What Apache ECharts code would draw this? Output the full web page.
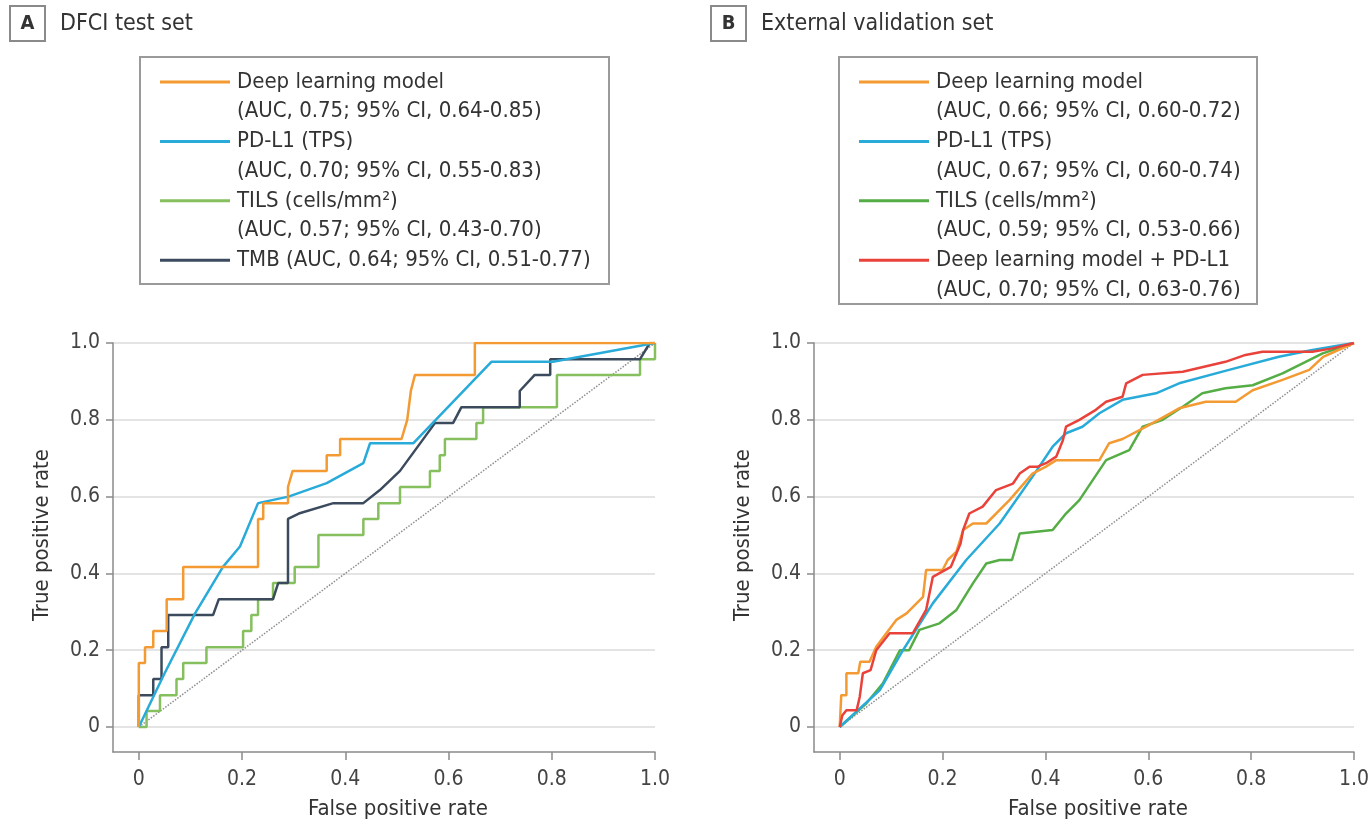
<!DOCTYPE html>
<html>
<head>
<meta charset="utf-8">
<script src="https://cdn.jsdelivr.net/npm/echarts@6/dist/echarts.min.js"></script>
<style>
  html, body { margin: 0; padding: 0; background: #fff; }
  #chart { width: 1372px; height: 824px; }
</style>
</head>
<body>
<div id="chart"></div>
<script>
// tick values shared by both panels
const tickValues = [0, 0.2, 0.4, 0.6, 0.8, 1];
const diagonal = [[0, 0], [1, 1]];

// A: DFCI test set ([fpr, tpr])
const dfciDeepLearning = [[0,0],[0,0.167],[0.012,0.167],[0.012,0.208],[0.028,0.208],[0.028,0.25],[0.054,0.25],[0.054,0.333],[0.086,0.333],[0.086,0.417],[0.231,0.417],[0.231,0.542],[0.241,0.542],[0.241,0.583],[0.289,0.583],[0.289,0.625],[0.298,0.667],[0.364,0.667],[0.364,0.708],[0.39,0.708],[0.39,0.75],[0.509,0.75],[0.52,0.8],[0.527,0.875],[0.535,0.917],[0.651,0.917],[0.651,1],[1,1]];
const dfciPdl1 = [[0,0],[0.05,0.14],[0.109,0.296],[0.163,0.417],[0.196,0.47],[0.231,0.583],[0.29,0.6],[0.364,0.635],[0.435,0.687],[0.448,0.739],[0.532,0.739],[0.683,0.951],[0.802,0.951],[1,1]];
const dfciTils = [[0,0],[0.015,0],[0.015,0.042],[0.041,0.042],[0.041,0.083],[0.073,0.083],[0.073,0.125],[0.086,0.125],[0.086,0.167],[0.131,0.167],[0.131,0.208],[0.202,0.208],[0.202,0.25],[0.218,0.25],[0.218,0.292],[0.231,0.292],[0.231,0.333],[0.26,0.333],[0.26,0.375],[0.302,0.375],[0.302,0.417],[0.348,0.417],[0.348,0.5],[0.435,0.5],[0.435,0.542],[0.464,0.542],[0.464,0.583],[0.506,0.583],[0.506,0.625],[0.564,0.625],[0.564,0.667],[0.583,0.667],[0.583,0.708],[0.593,0.708],[0.593,0.75],[0.654,0.75],[0.654,0.792],[0.667,0.792],[0.667,0.833],[0.81,0.833],[0.81,0.917],[0.971,0.917],[0.971,0.958],[1,0.958],[1,1]];
const dfciTmb = [[0,0],[0,0.083],[0.028,0.083],[0.028,0.125],[0.044,0.125],[0.044,0.208],[0.057,0.208],[0.057,0.292],[0.144,0.292],[0.155,0.333],[0.26,0.333],[0.27,0.375],[0.289,0.375],[0.289,0.542],[0.31,0.556],[0.377,0.583],[0.435,0.583],[0.467,0.617],[0.506,0.667],[0.574,0.792],[0.609,0.792],[0.625,0.833],[0.738,0.833],[0.738,0.875],[0.767,0.917],[0.797,0.917],[0.797,0.958],[0.971,0.958],[0.99,1],[1,1]];

// B: external validation set
const extDeepLearning = [[0,0],[0.003,0.083],[0.013,0.083],[0.013,0.14],[0.036,0.14],[0.04,0.17],[0.058,0.17],[0.071,0.209],[0.11,0.279],[0.13,0.296],[0.162,0.339],[0.168,0.409],[0.2,0.409],[0.21,0.435],[0.227,0.457],[0.24,0.513],[0.259,0.53],[0.285,0.53],[0.33,0.591],[0.375,0.66],[0.401,0.678],[0.421,0.695],[0.505,0.695],[0.524,0.739],[0.55,0.75],[0.583,0.773],[0.62,0.8],[0.66,0.83],[0.712,0.847],[0.77,0.847],[0.803,0.877],[0.861,0.904],[0.913,0.93],[0.94,0.964],[1,1]];
const extPdl1 = [[0,0],[0.078,0.096],[0.123,0.2],[0.181,0.322],[0.246,0.435],[0.311,0.53],[0.375,0.652],[0.414,0.73],[0.44,0.765],[0.472,0.782],[0.505,0.817],[0.55,0.852],[0.615,0.869],[0.66,0.895],[0.757,0.93],[0.854,0.964],[0.919,0.982],[1,1]];
const extTils = [[0,0],[0.052,0.062],[0.084,0.114],[0.117,0.2],[0.135,0.2],[0.155,0.253],[0.194,0.27],[0.227,0.305],[0.259,0.374],[0.285,0.426],[0.311,0.435],[0.335,0.435],[0.35,0.504],[0.414,0.513],[0.44,0.556],[0.466,0.591],[0.479,0.617],[0.505,0.669],[0.518,0.695],[0.563,0.721],[0.589,0.782],[0.628,0.8],[0.667,0.834],[0.705,0.869],[0.75,0.882],[0.803,0.89],[0.861,0.921],[0.906,0.951],[0.939,0.973],[1,1]];
const extCombined = [[0,0],[0.005,0.03],[0.013,0.044],[0.033,0.044],[0.039,0.079],[0.045,0.14],[0.06,0.148],[0.071,0.2],[0.097,0.244],[0.142,0.244],[0.168,0.305],[0.181,0.391],[0.216,0.417],[0.235,0.478],[0.24,0.513],[0.252,0.556],[0.278,0.574],[0.304,0.617],[0.337,0.634],[0.35,0.66],[0.369,0.678],[0.385,0.678],[0.401,0.687],[0.421,0.704],[0.434,0.747],[0.44,0.782],[0.466,0.8],[0.498,0.826],[0.518,0.847],[0.55,0.86],[0.557,0.895],[0.589,0.917],[0.667,0.925],[0.75,0.951],[0.789,0.969],[0.822,0.977],[0.919,0.977],[0.958,0.986],[1,1]];

const legendA = [
  ['Deep learning model', '(AUC, 0.75; 95% CI, 0.64-0.85)'],
  ['PD-L1 (TPS)', '(AUC, 0.70; 95% CI, 0.55-0.83)'],
  ['TILS (cells/mm²)', '(AUC, 0.57; 95% CI, 0.43-0.70)'],
  ['TMB (AUC, 0.64; 95% CI, 0.51-0.77)']
];
const legendB = [
  ['Deep learning model', '(AUC, 0.66; 95% CI, 0.60-0.72)'],
  ['PD-L1 (TPS)', '(AUC, 0.67; 95% CI, 0.60-0.74)'],
  ['TILS (cells/mm²)', '(AUC, 0.59; 95% CI, 0.53-0.66)'],
  ['Deep learning model + PD-L1', '(AUC, 0.70; 95% CI, 0.63-0.76)']
];

const ORANGE = '#f39a33', BLUE = '#28abd8', GREEN_A = '#86bf5e', GREEN_B = '#55ad45', NAVY = '#3b4b5d', RED = '#e8423b';
const FONT = '"DejaVu Sans Condensed", "Liberation Sans Narrow", sans-serif';
const AXIS_COLOR = '#8a8a8a';

function fmt(v) { return v === 0 ? '0' : v.toFixed(1); }

function xAxis(i) {
  return {
    type: 'value', gridIndex: i, min: -0.05, max: 1,
    axisLine: { onZero: false, lineStyle: { color: AXIS_COLOR, width: 1.5 } },
    axisTick: { customValues: tickValues, length: 8, lineStyle: { color: AXIS_COLOR, width: 1.5 } },
    axisLabel: { customValues: tickValues, formatter: fmt, margin: 17, color: '#444', fontSize: 21, fontFamily: FONT },
    splitLine: { show: false },
    name: 'False positive rate', nameLocation: 'middle', nameGap: 46,
    nameTextStyle: { color: '#333', fontSize: 22, fontFamily: FONT, padding: [0, 0, 0, 28] }
  };
}
function yAxis(i) {
  return {
    type: 'value', gridIndex: i, min: -0.065, max: 1,
    axisLine: { show: true, onZero: false, lineStyle: { color: AXIS_COLOR, width: 1.5 } },
    axisTick: { show: true, customValues: tickValues, length: 7, lineStyle: { color: AXIS_COLOR, width: 1.5 } },
    axisLabel: { customValues: tickValues, formatter: fmt, margin: 13, color: '#444', fontSize: 21, fontFamily: FONT },
    splitLine: { show: true, lineStyle: { color: '#e4e4e4', width: 2 } },
    name: 'True positive rate', nameLocation: 'middle', nameGap: 60,
    nameTextStyle: { color: '#333', fontSize: 22, fontFamily: FONT, padding: [0, 0, 0, 25] }
  };
}

function curve(i, data, color, z) {
  return {
    type: 'line', xAxisIndex: i, yAxisIndex: i, data: data, symbol: 'none',
    lineStyle: { color: color, width: 2.5 }, z: z, silent: true
  };
}
function refLine(i) {
  return {
    type: 'line', xAxisIndex: i, yAxisIndex: i, data: diagonal, symbol: 'none',
    lineStyle: { color: '#8e8e8e', width: 1.5, type: 'dotted' }, z: 1, silent: true
  };
}

function legendBox(x, y, w, h, items, colors) {
  const els = [{ type: 'rect', shape: { x: x, y: y, width: w, height: h }, style: { fill: '#fff', stroke: '#9a9a9a', lineWidth: 2 } }];
  let row = 0;
  items.forEach(function (lines, k) {
    const ly = y + 25 + row * 29.7;
    els.push({ type: 'line', shape: { x1: x + 20, y1: ly, x2: x + 90, y2: ly }, style: { stroke: colors[k], lineWidth: 3 } });
    lines.forEach(function (t, j) {
      els.push({ type: 'text', x: x + 97, y: ly + j * 29.7, style: { text: t, fill: '#333', font: '22px ' + FONT, verticalAlign: 'middle' } });
    });
    row += lines.length;
  });
  return els;
}
function panelTitle(x, letter, text) {
  return [
    { type: 'rect', shape: { x: x, y: 6, width: 35, height: 35 }, style: { fill: '#fff', stroke: '#8a8a8a', lineWidth: 2 } },
    { type: 'text', x: x + 17.5, y: 24, style: { text: letter, fill: '#333', font: 'bold 20px ' + FONT, align: 'center', verticalAlign: 'middle' } },
    { type: 'text', x: x + 50, y: 24, style: { text: text, fill: '#333', font: '23px ' + FONT, verticalAlign: 'middle' } }
  ];
}

const chart = echarts.init(document.getElementById('chart'));
chart.setOption({
  animation: false,
  grid: [
    { left: 113, top: 343, width: 542, height: 409 },
    { left: 814, top: 343, width: 541, height: 409 }
  ],
  xAxis: [xAxis(0), xAxis(1)],
  yAxis: [yAxis(0), yAxis(1)],
  series: [
    refLine(0),
    curve(0, dfciTils, GREEN_A, 2),
    curve(0, dfciTmb, NAVY, 3),
    curve(0, dfciPdl1, BLUE, 4),
    curve(0, dfciDeepLearning, ORANGE, 5),
    refLine(1),
    curve(1, extTils, GREEN_B, 2),
    curve(1, extPdl1, BLUE, 3),
    curve(1, extDeepLearning, ORANGE, 4),
    curve(1, extCombined, RED, 5)
  ],
  graphic: [].concat(
    panelTitle(10, 'A', 'DFCI test set'),
    panelTitle(711, 'B', 'External validation set'),
    legendBox(140, 57, 469, 227, legendA, [ORANGE, BLUE, GREEN_A, NAVY]),
    legendBox(839, 57, 418, 247, legendB, [ORANGE, BLUE, GREEN_B, RED])
  )
});
</script>
</body>
</html>
